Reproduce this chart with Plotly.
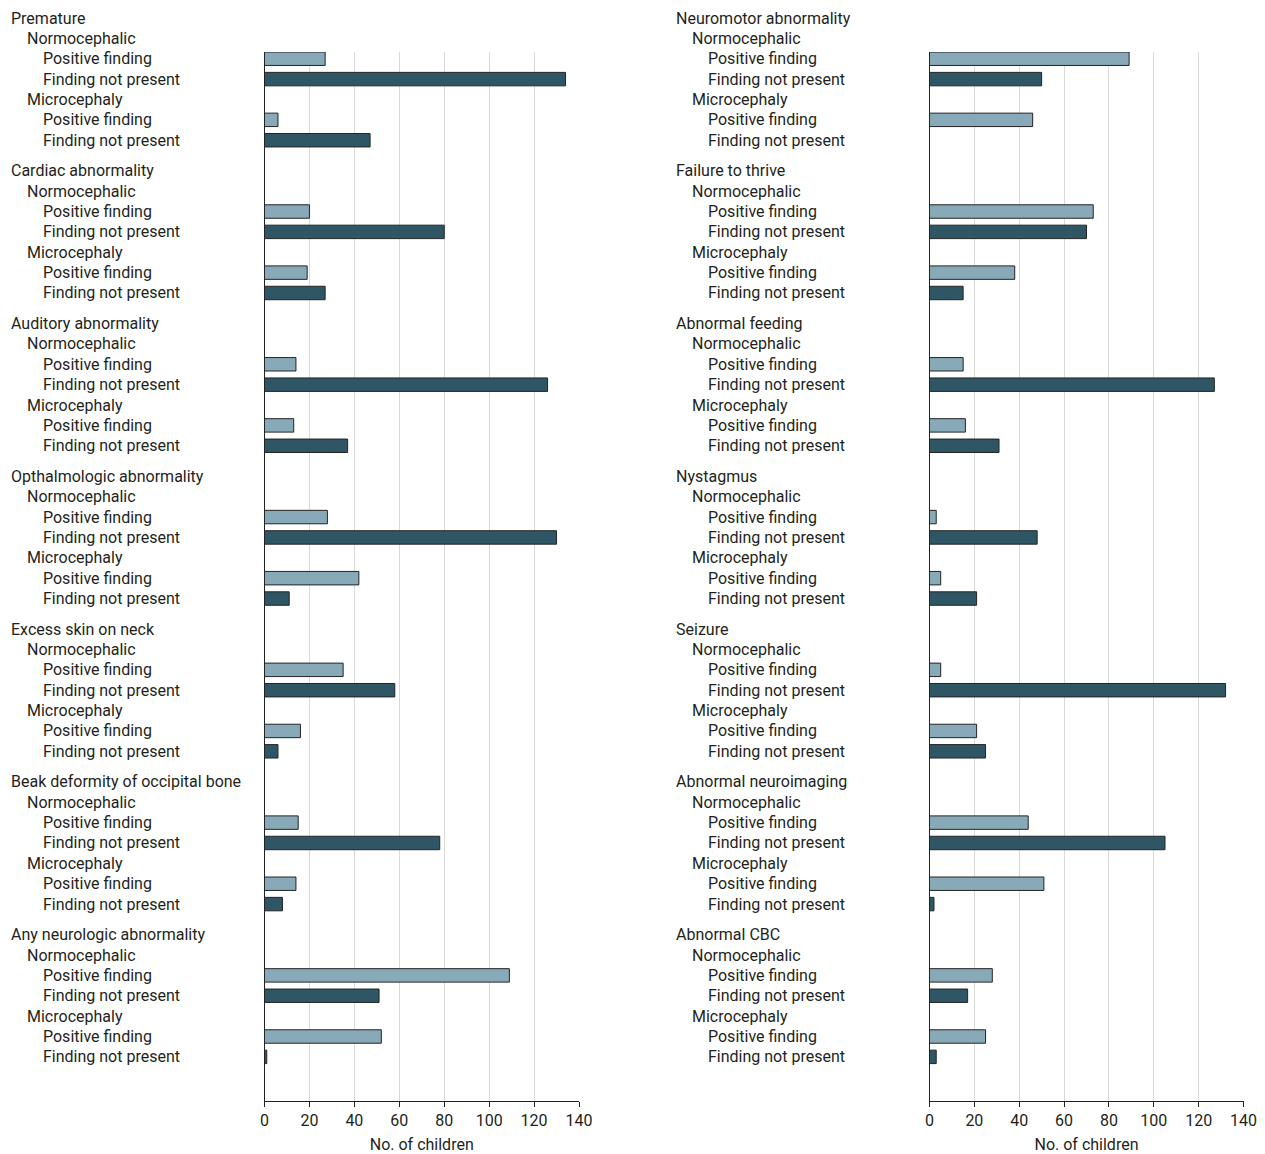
import plotly.graph_objects as go

# ---------------- data ----------------
left_groups = ["Premature", "Cardiac abnormality", "Auditory abnormality",
               "Opthalmologic abnormality", "Excess skin on neck",
               "Beak deformity of occipital bone", "Any neurologic abnormality"]
left_norm_pos = [27, 20, 14, 28, 35, 15, 109]
left_norm_not = [134, 80, 126, 130, 58, 78, 51]
left_micro_pos = [6, 19, 13, 42, 16, 14, 52]
left_micro_not = [47, 27, 37, 11, 6, 8, 1]

right_groups = ["Neuromotor abnormality", "Failure to thrive", "Abnormal feeding",
                "Nystagmus", "Seizure", "Abnormal neuroimaging", "Abnormal CBC"]
right_norm_pos = [89, 73, 15, 3, 5, 44, 28]
right_norm_not = [50, 70, 127, 48, 132, 105, 17]
right_micro_pos = [46, 38, 16, 5, 21, 51, 25]
right_micro_not = [0, 15, 31, 21, 25, 2, 3]

subgroups = ["Normocephalic", "Microcephaly"]
findings = ["Positive finding", "Finding not present"]
x_ticks = [0, 20, 40, 60, 80, 100, 120, 140]
x_title = "No. of children"

# ---------------- style ----------------
LIGHT = "#88a9b8"
DARK = "#2f5664"
EDGE = "#242424"
TEXT = "#231f20"
FONT = "Roboto"
W, H = 1265, 1154
GROUP_STEP = 7.5
ROW_PX = 20.37
TOP_ROW_PX = 18
PLOT_TOP = 52
PLOT_BOT = 1101

def row_y(g, r):
    return -(g * GROUP_STEP + r)

y_top = -(PLOT_TOP - TOP_ROW_PX) / ROW_PX
y_bot = -(PLOT_BOT - TOP_ROW_PX) / ROW_PX

def to_paper(v):
    return (v - y_bot) / (y_top - y_bot)

fig = go.Figure()
annotations = []

panels = [
    (left_groups, left_norm_pos, left_norm_not, left_micro_pos, left_micro_not, "x", "y", 10),
    (right_groups, right_norm_pos, right_norm_not, right_micro_pos, right_micro_not, "x2", "y2", 675),
]

for groups, npos, nnot, mpos, mnot, xa, ya, lx in panels:
    pos_x, pos_y, not_x, not_y = [], [], [], []
    for g, name in enumerate(groups):
        pos_x += [npos[g], mpos[g]]
        pos_y += [row_y(g, 2), row_y(g, 5)]
        not_x += [nnot[g], mnot[g]]
        not_y += [row_y(g, 3), row_y(g, 6)]
        labels = [(name, 0, 0), (subgroups[0], 1, 16), (findings[0], 2, 32), (findings[1], 3, 32),
                  (subgroups[1], 4, 16), (findings[0], 5, 32), (findings[1], 6, 32)]
        for txt, r, ind in labels:
            annotations.append(dict(
                text=txt, xref="paper", yref="paper", x=(lx + ind) / W, y=to_paper(row_y(g, r)),
                xanchor="left", yanchor="middle", showarrow=False, borderpad=0,
                font=dict(family=FONT, size=16, color=TEXT)))
    pos_x_plot = [v if v > 0 else None for v in pos_x]
    not_x_plot = [v if v > 0 else None for v in not_x]
    fig.add_trace(go.Bar(x=pos_x_plot, y=pos_y, orientation="h", width=0.66,
                         marker=dict(color=LIGHT, line=dict(color=EDGE, width=1)),
                         xaxis=xa, yaxis=ya, showlegend=False, hoverinfo="x"))
    fig.add_trace(go.Bar(x=not_x_plot, y=not_y, orientation="h", width=0.66,
                         marker=dict(color=DARK, line=dict(color=EDGE, width=1)),
                         xaxis=xa, yaxis=ya, showlegend=False, hoverinfo="x"))

xaxis_common = dict(range=[0, 140], tickvals=x_ticks, ticktext=[str(t) for t in x_ticks],
                    showgrid=True, gridcolor="#d9d9d9", gridwidth=1.3, zeroline=False,
                    showline=True, linecolor="#222", linewidth=1.2,
                    ticks="outside", ticklen=5, tickcolor="#222", tickwidth=1,
                    tickfont=dict(family=FONT, size=16, color=TEXT),
                    title=dict(text=x_title, font=dict(family=FONT, size=16, color=TEXT), standoff=9),
                    automargin=False, fixedrange=True)
yaxis_common = dict(range=[y_bot, y_top], showgrid=False, zeroline=False, showticklabels=False,
                    ticks="", showline=True, linecolor="#222", linewidth=1.2,
                    automargin=False, fixedrange=True)

fig.update_layout(
    width=W, height=H,
    autosize=False,
    margin=dict(l=0, r=0, t=PLOT_TOP, b=H - PLOT_BOT, pad=0, autoexpand=False),
    paper_bgcolor="white", plot_bgcolor="white",
    barmode="overlay",
    xaxis=dict(domain=[264.5 / W, 579 / W], anchor="y", **xaxis_common),
    yaxis=dict(domain=[0, 1], anchor="x", **yaxis_common),
    xaxis2=dict(domain=[929.5 / W, 1243.5 / W], anchor="y2", **xaxis_common),
    yaxis2=dict(domain=[0, 1], anchor="x2", **yaxis_common),
    annotations=annotations,
    font=dict(family=FONT, color=TEXT),
)

fig.write_html("out.html", config={"responsive": False})
